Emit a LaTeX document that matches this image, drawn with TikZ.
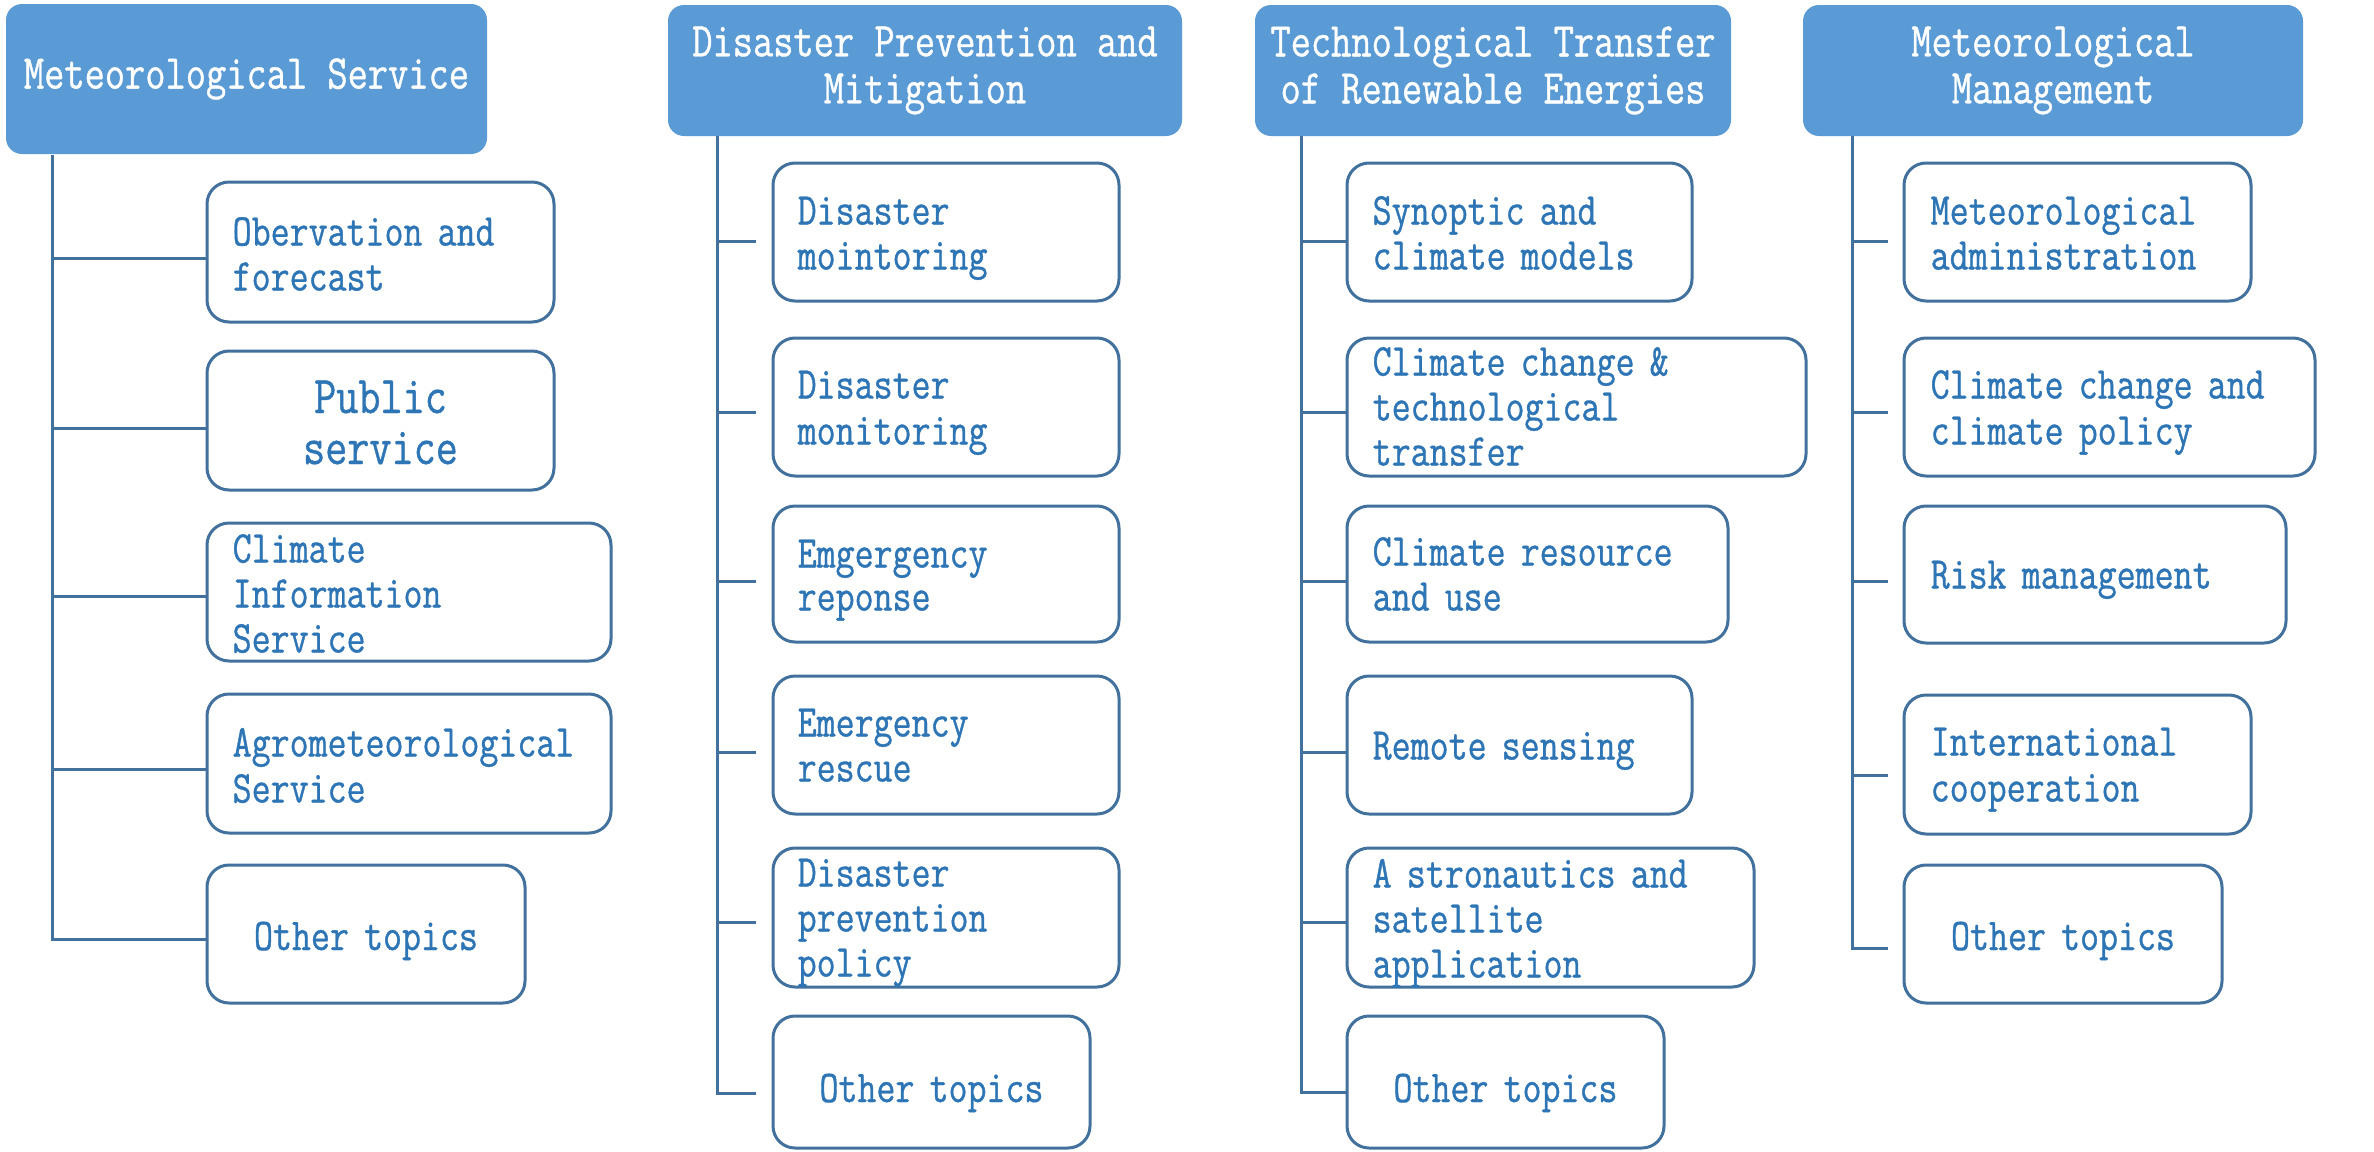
\documentclass[tikz,border=0pt]{standalone}
\usepackage{fontspec}
\usetikzlibrary{calc}
\newfontfamily\monof[FakeStretch=0.81,FakeBold=0.8]{Latin Modern Mono}
\definecolor{hdrfill}{HTML}{5B9BD5}
\definecolor{lineblue}{HTML}{41719C}
\definecolor{txtblue}{HTML}{2E75B6}
\begin{document}
\begin{tikzpicture}[x=1pt,y=-1pt,
 hdr/.style={draw=none, fill=hdrfill, rounded corners=16pt, text=white, align=center, inner sep=0pt, font=\monof\fontsize{48.5}{47}\selectfont},
 topic/.style={draw=lineblue, line width=3pt, rounded corners=22pt, fill=white, inner sep=0pt},
 conn/.style={draw=lineblue, line width=3pt},
 ltxt/.style={anchor=base west, text width=600pt, align=left, inner sep=0pt, text=txtblue, font=\monof\fontsize{45.5}{45}\selectfont},
 ctxt/.style={anchor=base, text width=400pt, align=center, inner sep=0pt, text=txtblue, font=\monof\fontsize{45.5}{45}\selectfont},
]
\useasboundingbox (0,0) rectangle (2374,1151);
\fill[white] (0,0) rectangle (2374,1151);

% headers
\node[hdr, minimum width=481pt, minimum height=150pt] (h1) at (246.5,79) {Meteorological Service};
\node[hdr, minimum width=514pt, minimum height=131pt] (h2) at (925,70.5) {Disaster Prevention and\\Mitigation};
\node[hdr, minimum width=476pt, minimum height=131pt] (h3) at (1493,70.5) {Technological Transfer\\of Renewable Energies};
\node[hdr, minimum width=500pt, minimum height=131pt] (h4) at (2053,70.5) {Meteorological\\Management};

% column 1 boxes
\node[topic, minimum width=347pt, minimum height=140pt] (b1) at (380.5,252) {};
\node[topic, minimum width=347pt, minimum height=139pt] (b2) at (380.5,420.5) {};
\node[topic, minimum width=404pt, minimum height=138pt] (b3) at (409,592) {};
\node[topic, minimum width=404pt, minimum height=139pt] (b4) at (409,763.5) {};
\node[topic, minimum width=318pt, minimum height=138pt] (b5) at (366,934) {};

% column 2 boxes
\node[topic, minimum width=346pt, minimum height=138pt] (c1) at (946,232) {};
\node[topic, minimum width=346pt, minimum height=138pt] (c2) at (946,407) {};
\node[topic, minimum width=346pt, minimum height=136pt] (c3) at (946,574) {};
\node[topic, minimum width=346pt, minimum height=138pt] (c4) at (946,745) {};
\node[topic, minimum width=346pt, minimum height=139pt] (c5) at (946,917.5) {};
\node[topic, minimum width=317pt, minimum height=132pt] (c6) at (931.5,1082) {};

% column 3 boxes
\node[topic, minimum width=345pt, minimum height=138pt] (d1) at (1519.5,232) {};
\node[topic, minimum width=459pt, minimum height=138pt] (d2) at (1576.5,407) {};
\node[topic, minimum width=381pt, minimum height=136pt] (d3) at (1537.5,574) {};
\node[topic, minimum width=345pt, minimum height=138pt] (d4) at (1519.5,745) {};
\node[topic, minimum width=407pt, minimum height=139pt] (d5) at (1550.5,917.5) {};
\node[topic, minimum width=317pt, minimum height=132pt] (d6) at (1505.5,1082) {};

% column 4 boxes
\node[topic, minimum width=347pt, minimum height=138pt] (e1) at (2077.5,232) {};
\node[topic, minimum width=411pt, minimum height=138pt] (e2) at (2109.5,407) {};
\node[topic, minimum width=382pt, minimum height=137pt] (e3) at (2095,574.5) {};
\node[topic, minimum width=347pt, minimum height=139pt] (e4) at (2077.5,764.5) {};
\node[topic, minimum width=318pt, minimum height=138pt] (e5) at (2063,934) {};

% trunks
\coordinate (t1) at (52,155);
\coordinate (t2) at (717,136);
\coordinate (t3) at (1301,136);
\coordinate (t4) at (1852,136);

% column 1 connectors
\draw[conn] (t1) |- ([yshift=-5pt]b5.west);
\draw[conn] ([yshift=-6pt]b1.west) -- +(-155,0);
\draw[conn] ([yshift=-7.5pt]b2.west) -- +(-155,0);
\draw[conn] ([yshift=-4pt]b3.west) -- +(-155,0);
\draw[conn] ([yshift=-5.5pt]b4.west) -- +(-155,0);

% column 2 connectors
\draw[conn] (t2) |- ([xshift=-16pt,yshift=-11pt]c6.west);
\draw[conn] ([xshift=-16pt,yshift=-9pt]c1.west) -- +(-40,0);
\draw[conn] ([xshift=-16pt,yshift=-5pt]c2.west) -- +(-40,0);
\draw[conn] ([xshift=-16pt,yshift=-7pt]c3.west) -- +(-40,0);
\draw[conn] ([xshift=-16pt,yshift=-7pt]c4.west) -- +(-40,0);
\draw[conn] ([xshift=-16pt,yshift=-4.5pt]c5.west) -- +(-40,0);

% column 3 connectors
\draw[conn] (t3) |- ([yshift=-10pt]d6.west);
\draw[conn] ([yshift=-9pt]d1.west) -- +(-46,0);
\draw[conn] ([yshift=-5pt]d2.west) -- +(-46,0);
\draw[conn] ([yshift=-7pt]d3.west) -- +(-46,0);
\draw[conn] ([yshift=-7pt]d4.west) -- +(-46,0);
\draw[conn] ([yshift=-4.5pt]d5.west) -- +(-46,0);

% column 4 connectors
\draw[conn] (t4) |- ([xshift=-15pt,yshift=-14pt]e5.west);
\draw[conn] ([xshift=-15pt,yshift=-9pt]e1.west) -- +(-37,0);
\draw[conn] ([xshift=-15pt,yshift=-5pt]e2.west) -- +(-37,0);
\draw[conn] ([xshift=-15pt,yshift=-6.5pt]e3.west) -- +(-37,0);
\draw[conn] ([xshift=-15pt,yshift=-10.5pt]e4.west) -- +(-37,0);

% column 1 texts
\node[ltxt] (b1t) at ($(b1.north west)+(27,65)$) {Obervation and\\forecast};
\node[ctxt, font=\monof\fontsize{53}{51}\selectfont] (b2t) at (380.5,413) {Public\\service};
\node[ltxt] (b3t) at ($(b3.north west)+(27,41)$) {Climate\\Information\\Service};
\node[ltxt, font=\monof\fontsize{45.5}{46}\selectfont] (b4t) at ($(b4.north west)+(27,64)$) {Agrometeorological\\Service};
\node[ctxt] (b5t) at (366,950) {Other topics};

% column 2 texts
\node[ltxt] (c1t) at ($(c1.north west)+(26,63)$) {Disaster\\mointoring};
\node[ltxt, font=\monof\fontsize{45.5}{46}\selectfont] (c2t) at ($(c2.north west)+(26,62)$) {Disaster\\monitoring};
\node[ltxt, font=\monof\fontsize{45.5}{43}\selectfont] (c3t) at ($(c3.north west)+(26,63)$) {Emgergency\\reponse};
\node[ltxt] (c4t) at ($(c4.north west)+(26,62)$) {Emergency\\rescue};
\node[ltxt] (c5t) at ($(c5.north west)+(26,40)$) {Disaster\\prevention\\policy};
\node[ctxt] (c6t) at (931.5,1102) {Other topics};

% column 3 texts
\node[ltxt] (d1t) at ($(d1.north west)+(27,63)$) {Synoptic and\\climate models};
\node[ltxt] (d2t) at ($(d2.north west)+(27,39)$) {Climate change \&\\technological\\transfer};
\node[ltxt] (d3t) at ($(d3.north west)+(27,61)$) {Climate resource\\and use};
\node[ltxt] (d4t) at ($(d4.north west)+(27,85)$) {Remote sensing};
\node[ltxt] (d5t) at ($(d5.north west)+(27,41)$) {A stronautics and\\satellite\\application};
\node[ctxt] (d6t) at (1505.5,1102) {Other topics};

% column 4 texts
\node[ltxt] (e1t) at ($(e1.north west)+(28,63)$) {Meteorological\\administration};
\node[ltxt, font=\monof\fontsize{45.5}{46}\selectfont] (e2t) at ($(e2.north west)+(28,62)$) {Climate change and\\climate policy};
\node[ltxt] (e3t) at ($(e3.north west)+(28,84)$) {Risk management};
\node[ltxt, font=\monof\fontsize{45.5}{46}\selectfont] (e4t) at ($(e4.north west)+(28,62)$) {International\\cooperation};
\node[ctxt] (e5t) at (2063,950) {Other topics};
\end{tikzpicture}
\end{document}
